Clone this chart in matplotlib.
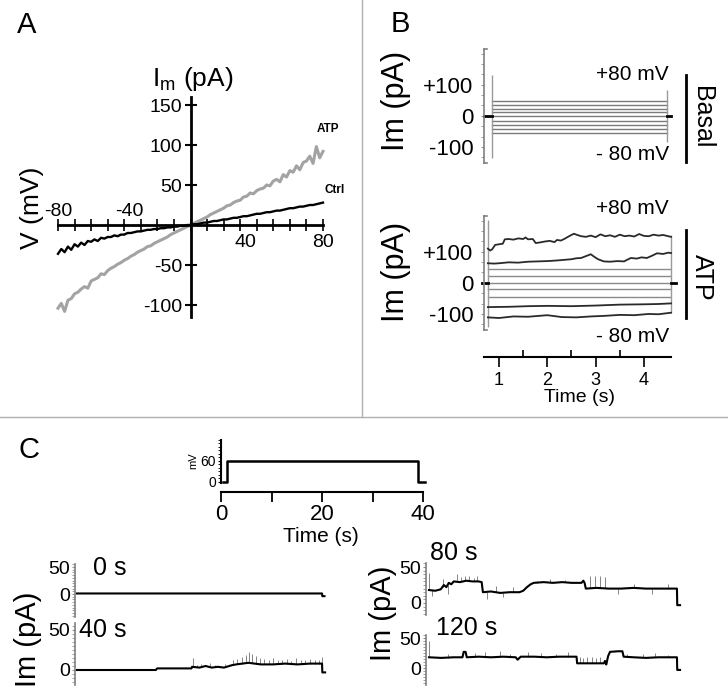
import matplotlib
matplotlib.use('Agg')
import matplotlib.pyplot as plt
from matplotlib.lines import Line2D
from matplotlib.ticker import MultipleLocator
import numpy as np

W, H = 728, 699

plt.rcParams['font.family'] = ['Liberation Sans', 'DejaVu Sans']
plt.rcParams['mathtext.fontset'] = 'custom'
plt.rcParams['mathtext.rm'] = 'Liberation Sans'
plt.rcParams['axes.unicode_minus'] = False

# ---- panel A: I-V ramps (mV, pA) ----
iv_v = list(range(-80, 81, 2))
iv_atp = [-104, -98, -108, -94, -92, -86, -84, -80, -77, -79,
          -70, -68, -66, -61, -62, -57, -54, -52, -49, -47,
          -44, -42, -39, -37, -34, -32, -30, -27, -26, -23,
          -21, -19, -17, -15, -12, -10, -8, -6, -4, -2,
          0,
          2, 4, 6, 8, 10, 13, 15, 17, 19, 21,
          24, 25, 28, 30, 31, 35, 36, 40, 39, 43,
          45, 46, 50, 49, 55, 57, 54, 63, 60, 68,
          66, 74, 69, 78, 80, 86, 77, 98, 84, 92]
iv_ctrl = [-36, -30, -34, -27, -31, -24, -27, -22, -25, -20,
           -21, -18, -20, -16, -17, -15, -15, -13, -14, -12,
           -12, -10, -10, -9, -8, -8, -7, -6, -6, -5,
           -5, -4, -4, -3, -3, -2, -2, -1, -1, 0,
           0,
           1, 1, 2, 3, 3, 4, 5, 5, 6, 7,
           7, 8, 9, 9, 10, 11, 11, 12, 13, 14,
           14, 15, 16, 16, 17, 18, 18, 19, 20, 21,
           21, 22, 23, 23, 24, 25, 25, 26, 27, 28]

# ---- panel B: current families (s, pA) ----
basal_t = [0.86, 4.48]
basal_levels = [49, 35, 23, 11, 0, -15, -29, -42, -56]
basal_transients = [(0.86, -135, 132), (4.48, -84, 84)]

atp_t = [0.77, 4.56]
atp_flat = [44, 22, 0, -20, -44]
atp_transients = [(0.77, -141, 203), (4.56, -97, 155)]
atp1_t = [0.77, 0.82, 0.86, 0.92, 1.0, 1.08, 1.12, 1.2, 1.3, 1.4, 1.5, 1.55,
          1.6, 1.7, 1.76, 1.85, 1.95, 2.05, 2.15, 2.2, 2.28, 2.35, 2.45, 2.55,
          2.62, 2.7, 2.8, 2.9, 3.0, 3.1, 3.2, 3.3, 3.4, 3.5, 3.6, 3.7, 3.8,
          3.9, 4.0, 4.1, 4.2, 4.3, 4.4, 4.5, 4.56]
atp1_i = [110, 104, 108, 122, 124, 126, 140, 141, 139, 143, 141, 146,
          140, 141, 128, 130, 133, 135, 131, 138, 136, 141, 150, 158,
          154, 150, 148, 152, 147, 156, 150, 153, 148, 155, 150, 152, 149,
          157, 151, 150, 155, 152, 154, 150, 148]
atp2_t = [0.77, 0.9, 1.0, 1.2, 1.4, 1.6, 1.8, 2.0, 2.2, 2.35, 2.5, 2.6, 2.7,
          2.8, 2.9, 2.97, 3.05, 3.17, 3.3, 3.45, 3.59, 3.65, 3.73, 3.85, 3.95,
          4.06, 4.15, 4.27, 4.4, 4.5, 4.56]
atp2_i = [63, 62, 63, 66, 65, 68, 69, 70, 72, 74, 76, 79, 80,
          86, 92, 84, 76, 69, 68, 70, 69, 74, 80, 78, 82,
          80, 86, 95, 93, 97, 96]
atp8_t = [0.77, 1.2, 1.6, 2.0, 2.5, 3.0, 3.5, 4.0, 4.3, 4.56]
atp8_i = [-78, -77, -75, -74, -75, -73, -70, -69, -68, -66]
atp9_t = [0.77, 1.0, 1.3, 1.6, 2.0, 2.3, 2.6, 2.9, 3.2, 3.5, 3.8, 4.1, 4.3, 4.56]
atp9_i = [-111, -113, -108, -109, -104, -110, -111, -108, -106, -103, -104,
          -100, -101, -96]

# ---- panel C: voltage step and single-channel records ----
stim_t = [0.4, 1.25, 1.25, 39.1, 39.1, 40.4]
stim_mv = [0, 0, 60, 60, 0, 0]

rec0_t = [0, 40, 40.05, 40.4]
rec0_i = [1, 1, -4, -4]
rec0_spk_t = []
rec0_spk_i = []

rec40_t = [0, 12.9, 13.1, 18.7, 18.8, 20, 21, 22, 23, 24, 25.3, 26, 27, 28,
           29, 30, 32, 34, 36, 38, 40, 40.05, 40.5]
rec40_i = [0, 0, 2, 2, 4, 3, 5, 3, 4, 3, 6, 7, 8, 9,
           8, 7, 7, 8, 7, 8, 8, -3, -3]
rec40_spk_t = [18.9, 19.6, 20.3, 21.0, 21.8, 22.5, 23.4, 24.2, 25.5, 26.2,
               27.0, 27.6, 28.1, 28.6, 29.2, 29.9, 30.6, 31.3, 32.0, 32.8,
               33.5, 34.3, 35.0, 35.8, 36.5, 37.3, 38.0, 38.8, 39.5, 40.0]
rec40_spk_i = [15, 6, 8, 5, 9, 6, 5, 7, 12, 14,
               16, 19, 22, 20, 17, 15, 14, 12, 15, 13,
               12, 14, 11, 15, 13, 12, 14, 13, 12, 16]

rec80_t = [0, 1.0, 1.9, 2.4, 2.8, 3.2, 3.6, 4.0, 5, 6, 7, 8, 8.5, 8.7,
           10, 11.5, 13, 14.6, 15.2, 15.8, 16.4, 16.9, 18.5, 20, 21.5, 23,
           24.6, 24.9, 25.1, 25.3, 27, 29, 31, 33, 35, 37, 39, 40, 40.05, 40.5]
rec80_i = [18, 17, 19, 25, 22, 28, 26, 30, 29, 31, 30, 30, 29, 15,
           16, 14, 15, 15, 17, 22, 26, 28, 29, 28, 29, 28,
           28, 31, 28, 20, 21, 20, 20, 21, 20, 20, 20, 20, -3, -3]
rec80_spk_t = [0.05, 0.5, 2.2, 3.0, 4.5, 5.2, 5.8, 6.5, 7.2, 7.8, 9.3, 10.8,
               12.0, 13.5, 17.5, 19.5, 22.0, 26.0, 26.8, 27.6, 28.4, 30.5,
               33.0, 36.0, 38.5]
rec80_spk_i = [42, 10, 34, 12, 40, 36, 38, 37, 35, 38, 6, 24,
               8, 22, 31, 33, 32, 38, 37, 38, 36, 12,
               26, 13, 27]

rec120_t = [0, 2, 4, 5.4, 5.6, 5.9, 6.1, 8, 10, 12, 14.0, 14.3, 14.8, 17, 19,
            21, 23.8, 23.9, 26, 28.2, 28.4, 28.6, 28.9, 29.2, 30.5, 31.2,
            31.4, 33, 35, 37, 39, 40, 40.05, 40.5]
rec120_i = [18, 17, 18, 18, 27, 27, 18, 19, 18, 19, 18, 14, 19, 19, 18,
            19, 19, 8, 8, 8, 12, 6, 20, 27, 28, 28,
            19, 18, 17, 18, 18, 18, -3, -3]
rec120_spk_t = [0.05, 3.0, 7.5, 9.0, 11.5, 13.0, 16.0, 18.0, 20.5, 22.5,
                24.3, 24.9, 25.5, 26.3, 27.0, 27.6, 32.0, 34.5, 36.5, 38.5]
rec120_spk_i = [45, 24, 25, 27, 28, 24, 26, 25, 23, 26,
                18, 17, 19, 18, 17, 19, 24, 23, 25, 22]


fig = plt.figure(figsize=(W / 100, H / 100), dpi=100)


def px_axes(x0, y0, x1, y1):
    ax = fig.add_axes([x0 / W, 1 - y1 / H, (x1 - x0) / W, (y1 - y0) / H])
    ax.patch.set_visible(False)
    return ax


def ftext(x, y, s, **kw):
    kw.setdefault('ha', 'center')
    kw.setdefault('va', 'center')
    fig.text(x / W, 1 - y / H, s, **kw)


def fline(xs, ys, **kw):
    fig.add_artist(Line2D([x / W for x in xs], [1 - y / H for y in ys], **kw))


# divider lines and panel letters
fline([362, 362], [0, 417], color='#b0b0b0', lw=1)
fline([0, W], [417, 417], color='#b0b0b0', lw=1)
ftext(27, 25, 'A', fontsize=21)
ftext(400, 24, 'B', fontsize=21)
ftext(29, 450, 'C', fontsize=21)

# ---------------- A ----------------
ax = px_axes(58, 97, 323, 317)
ax.plot(iv_v, iv_atp, color='#a3a3a3', lw=2.2, clip_on=False)
ax.plot(iv_v, iv_ctrl, color='black', lw=1.7, clip_on=False)
ax.set_xlim(-80, 80)
ax.set_ylim(-115, 160)
for s in ['top', 'right']:
    ax.spines[s].set_visible(False)
for s in ['left', 'bottom']:
    ax.spines[s].set_position(('data', 0))
    ax.spines[s].set_linewidth(2)
ax.set_xticks([-80, -40, 40, 80])
ax.set_xticklabels([])
ax.xaxis.set_minor_locator(MultipleLocator(10))
ax.tick_params(axis='x', which='both', direction='inout', length=8, width=1.2)
ax.set_yticks([-100, -50, 50, 100, 150])
ax.tick_params(axis='y', direction='inout', length=8, width=1.5,
               labelsize=14, pad=2)
for xv, yv, lab in [(-80, 17, '-80'), (-37, 17, '-40'), (33, -22, '40'),
                    (80, -22, '80')]:
    ax.text(xv, yv, lab, ha='center', va='center', fontsize=14)
ftext(193, 79, r'I$_\mathregular{m}$ (pA)', fontsize=19)
ftext(32, 208, 'V (mV)', fontsize=19, rotation=90)
ftext(328, 129, 'ATP', fontsize=8.5, fontweight='bold')
ftext(335, 190, 'Ctrl', fontsize=8.5, fontweight='bold')

# ---------------- B ----------------
B_XLIM = (0.69, 4.56)
B_YLIM = (-150, 215)


def style_b(ax):
    ax.set_xlim(*B_XLIM)
    ax.set_ylim(*B_YLIM)
    ax.spines['right'].set_visible(False)
    for s in ['left', 'top', 'bottom']:
        ax.spines[s].set_color('#808080')
        ax.spines[s].set_linewidth(1.2)
    ax.spines['top'].set_bounds(B_XLIM[0], B_XLIM[0] + 0.07)
    ax.spines['bottom'].set_bounds(B_XLIM[0], B_XLIM[0] + 0.07)
    ax.set_xticks([])
    ax.set_yticks([-100, 0, 100])
    ax.set_yticklabels(['-100', '0', '+100'])
    ax.yaxis.set_minor_locator(MultipleLocator(100 / 3))
    ax.tick_params(axis='y', which='both', length=2.5, color='#909090',
                   labelsize=16, pad=5)


axb = px_axes(484, 49, 671, 162.5)
style_b(axb)
for lv in basal_levels:
    axb.plot(basal_t, [lv, lv], color='#7a7a7a', lw=1)
for tt, lo, hi in basal_transients:
    axb.vlines(tt, lo, hi, color='#9a9a9a', lw=1)
axb.plot([B_XLIM[0], basal_t[0]], [0, 0], color='black', lw=2, clip_on=False)
axb.plot([basal_t[1], B_XLIM[1]], [0, 0], color='black', lw=2, clip_on=False)

axa = px_axes(484, 216, 671, 329.5)
style_b(axa)
for lv in atp_flat:
    axa.plot(atp_t, [lv, lv], color='#8a8a8a', lw=1)
for tt, lo, hi in atp_transients:
    axa.vlines(tt, lo, hi, color='#9a9a9a', lw=1, clip_on=False)
for tt, ii in [(atp1_t, atp1_i), (atp2_t, atp2_i), (atp8_t, atp8_i),
               (atp9_t, atp9_i)]:
    axa.plot(tt, ii, color='#2a2a2a', lw=1.3, clip_on=False)
axa.plot([0.64, atp_t[0]], [0, 0], color='black', lw=2, clip_on=False)
axa.plot([atp_t[1], 4.66], [0, 0], color='black', lw=2, clip_on=False)

for yy, lab in [(101, 'Im (pA)'), (272, 'Im (pA)')]:
    ftext(396, yy, lab, fontsize=22, rotation=90)
for yy, lab in [(75, '+80 mV'), (155, '- 80 mV'), (209, '+80 mV'),
                (337, '- 80 mV')]:
    ftext(669, yy, lab, fontsize=15, ha='right')
fline([686, 686], [75, 162], color='black', lw=2)
fline([686, 686], [230, 318], color='black', lw=2)
ftext(702, 117, 'Basal', fontsize=18, rotation=270)
ftext(702, 277, 'ATP', fontsize=18, rotation=270)

axt = px_axes(484, 330, 671, 357)
axt.set_xlim(*B_XLIM)
for s in ['left', 'top', 'right']:
    axt.spines[s].set_visible(False)
axt.spines['bottom'].set_linewidth(1.5)
axt.set_yticks([])
axt.set_xticks([1, 2, 3, 4])
axt.set_xticks([1.5, 2.5, 3.5], minor=True)
axt.tick_params(axis='x', which='major', direction='out', length=7,
                width=1.2, labelsize=13, pad=4)
axt.tick_params(axis='x', which='minor', direction='in', length=5, width=1.2)
ftext(579, 397, 'Time (s)', fontsize=14)

# ---------------- C ----------------
axs = px_axes(221, 440, 423, 483)
axs.plot(stim_t, stim_mv, color='black', lw=1.8, clip_on=False)
axs.set_xlim(0, 40)
axs.set_ylim(-3, 120)
for s in ['top', 'right']:
    axs.spines[s].set_visible(False)
axs.spines['left'].set_linewidth(1.5)
axs.spines['bottom'].set_linewidth(1.5)
axs.spines['bottom'].set_position(('outward', 6.5))
axs.spines['bottom'].set_bounds(0, 40)
axs.set_yticks([0, 60])
axs.yaxis.set_minor_locator(MultipleLocator(10))
axs.tick_params(axis='y', which='both', length=2.5, labelsize=10, pad=1)
axs.set_xticks([0, 20, 40])
axs.set_xticks([10, 30], minor=True)
axs.tick_params(axis='x', which='both', direction='out', length=7, width=1.3,
                labelsize=16, pad=1.5)
ftext(193, 461, 'mV', fontsize=8, rotation=90)
ftext(321, 536, 'Time (s)', fontsize=15)

records = [
    ((75, 564, 330, 617), (-0.3, 41.3), (-42.6, 55.6), rec0_t, rec0_i,
     rec0_spk_t, rec0_spk_i, '0 s', (93, 568)),
    ((75, 623, 330, 685), (-0.3, 41.3), (-18.75, 58.75), rec40_t, rec40_i,
     rec40_spk_t, rec40_spk_i, '40 s', (79, 630)),
    ((426, 563, 685, 615), (-0.48, 41.3), (-16.7, 55.6), rec80_t, rec80_i,
     rec80_spk_t, rec80_spk_i, '80 s', (430, 553)),
    ((426, 635, 685, 685), (-0.48, 41.3), (-28, 55), rec120_t, rec120_i,
     rec120_spk_t, rec120_spk_i, '120 s', (436, 628)),
]
for box, xl, yl, tt, ii, st, si, lab, (lx, ly) in records:
    axr = px_axes(*box)
    axr.set_xlim(*xl)
    axr.set_ylim(*yl)
    if st:
        axr.vlines(st, np.interp(st, tt, ii), si, color='#858585', lw=0.7)
    axr.plot(tt, ii, color='black', lw=1.5, clip_on=False)
    for s in ['top', 'right', 'bottom']:
        axr.spines[s].set_visible(False)
    axr.spines['left'].set_color('#808080')
    axr.spines['left'].set_linewidth(1.2)
    axr.set_xticks([])
    axr.set_yticks([0, 50])
    axr.yaxis.set_minor_locator(MultipleLocator(5))
    axr.tick_params(axis='y', which='both', length=2.5, color='#909090',
                    labelsize=14, pad=1)
    ftext(lx, ly, lab, fontsize=18, ha='left')

ftext(28, 639, 'Im (pA)', fontsize=21, rotation=90)
ftext(383, 613, 'Im (pA)', fontsize=21, rotation=90)

fig.savefig('out.png', dpi=100)
